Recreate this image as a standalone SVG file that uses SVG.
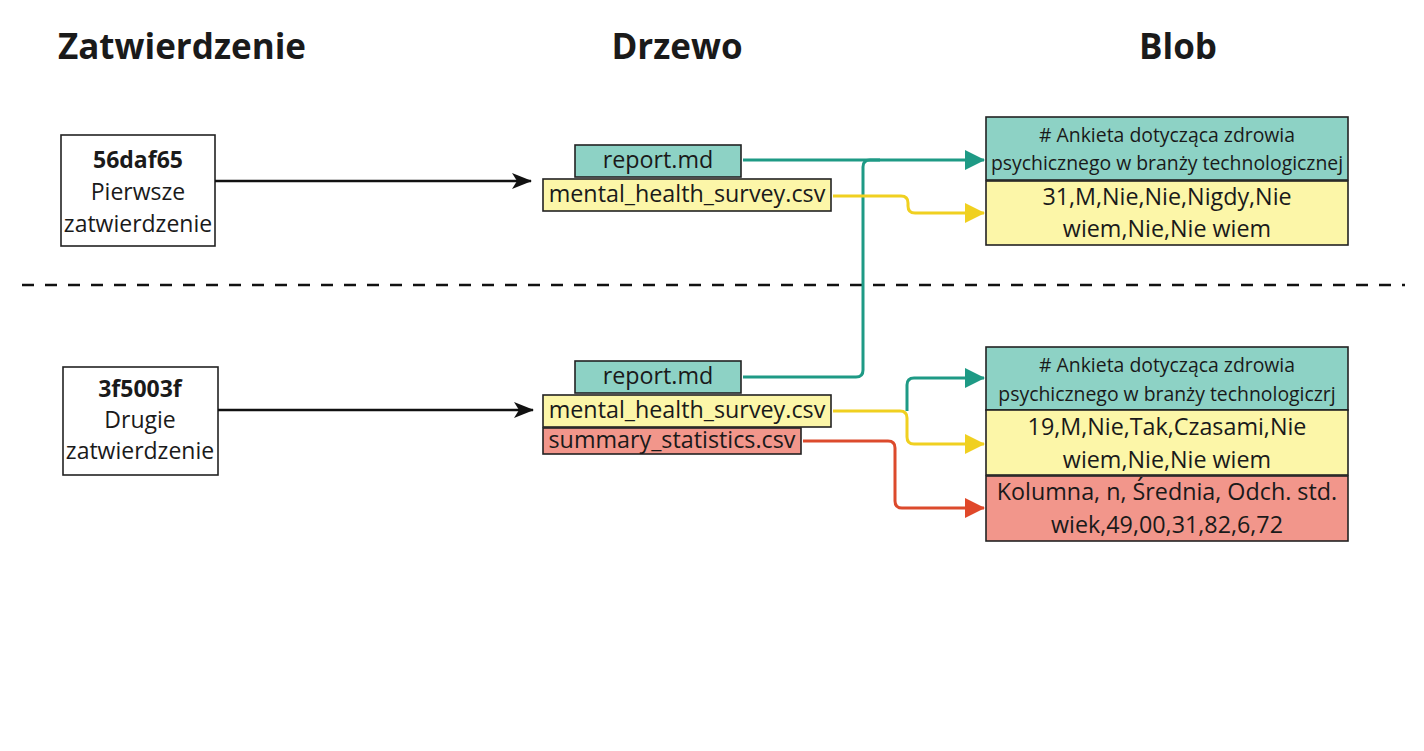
<svg xmlns="http://www.w3.org/2000/svg" width="1424" height="751" viewBox="0 0 1424 751">
<style>
text{font-family:"Open Sans","Noto Sans","DejaVu Sans",sans-serif;fill:#1a1a1a;text-anchor:middle}
.title{font-size:35px;font-weight:bold}
.c{font-size:23px}
.b{font-weight:bold}
.t{font-size:23.3px}
.bl{font-size:19.4px}
.bb{font-size:23.3px}
.box{stroke:#222;stroke-width:1.6}
.w{fill:#fff}
.teal{fill:#8dd2c5}
.yel{fill:#fcf6a8}
.red{fill:#f2968b}
.ln{fill:none;stroke-width:3;stroke-linejoin:round}
</style>
<defs>
<marker id="ak" viewBox="0 0 20 16" refX="19" refY="8" markerWidth="20" markerHeight="16" markerUnits="userSpaceOnUse" orient="auto"><path d="M0,0 L20,8 L0,16 L5,8 Z" fill="#111"/></marker>
<marker id="at" viewBox="0 0 20 20" refX="19" refY="10" markerWidth="20" markerHeight="20" markerUnits="userSpaceOnUse" orient="auto"><path d="M0,0 L20,10 L0,20 Z" fill="#1e9a85"/></marker>
<marker id="ay" viewBox="0 0 20 20" refX="19" refY="10" markerWidth="20" markerHeight="20" markerUnits="userSpaceOnUse" orient="auto"><path d="M0,0 L20,10 L0,20 Z" fill="#f0d020"/></marker>
<marker id="ar" viewBox="0 0 20 20" refX="19" refY="10" markerWidth="20" markerHeight="20" markerUnits="userSpaceOnUse" orient="auto"><path d="M0,0 L20,10 L0,20 Z" fill="#e0482a"/></marker>
</defs>
<rect width="1424" height="751" fill="#fff"/>
<g id="titles">
<text class="title" x="182" y="59">Zatwierdzenie</text>
<text class="title" x="677" y="59">Drzewo</text>
<text class="title" x="1178" y="59">Blob</text>
</g>
<line x1="22" y1="285" x2="1405" y2="285" stroke="#111" stroke-width="2.5" stroke-dasharray="12 11"/>
<g id="commit1">
<rect class="box w" x="61" y="135" width="154" height="111"/>
<text class="c b" x="138" y="168">56daf65</text>
<text class="c" x="138" y="200">Pierwsze</text>
<text class="c" x="138" y="232">zatwierdzenie</text>
</g>
<g id="commit2">
<rect class="box w" x="63" y="367" width="155" height="108"/>
<text class="c b" x="140" y="397">3f5003f</text>
<text class="c" x="140" y="428">Drugie</text>
<text class="c" x="140" y="459">zatwierdzenie</text>
</g>
<g id="tree1-report">
<rect class="box teal" x="575" y="145" width="166" height="32"/>
<text class="t" x="658" y="168">report.md</text>
</g>
<g id="tree1-survey">
<rect class="box yel" x="543" y="179" width="288" height="32"/>
<text class="t" x="687" y="202">mental_health_survey.csv</text>
</g>
<g id="tree2-report">
<rect class="box teal" x="575" y="361" width="166" height="32"/>
<text class="t" x="658" y="384">report.md</text>
</g>
<g id="tree2-survey">
<rect class="box yel" x="543" y="395" width="288" height="32"/>
<text class="t" x="687" y="418">mental_health_survey.csv</text>
</g>
<g id="tree2-summary">
<rect class="box red" x="543" y="428" width="258" height="26"/>
<text class="t" x="672" y="448">summary_statistics.csv</text>
</g>
<g id="blob1-report">
<rect class="box teal" x="986" y="117" width="362" height="63"/>
<text class="bl" x="1167" y="142"># Ankieta dotycząca zdrowia</text>
<text class="bl" x="1167" y="170">psychicznego w branży technologicznej</text>
</g>
<g id="blob1-survey">
<rect class="box yel" x="986" y="181" width="362" height="64"/>
<text class="bb" x="1167" y="205">31,M,Nie,Nie,Nigdy,Nie</text>
<text class="bb" x="1167" y="237">wiem,Nie,Nie wiem</text>
</g>
<g id="blob2-report">
<rect class="box teal" x="986" y="347" width="362" height="63"/>
<text class="bl" x="1167" y="372"># Ankieta dotycząca zdrowia</text>
<text class="bl" x="1167" y="401">psychicznego w branży technologiczrj</text>
</g>
<g id="blob2-survey">
<rect class="box yel" x="986" y="410" width="362" height="65"/>
<text class="bb" x="1167" y="435">19,M,Nie,Tak,Czasami,Nie</text>
<text class="bb" x="1167" y="468">wiem,Nie,Nie wiem</text>
</g>
<g id="blob2-summary">
<rect class="box red" x="986" y="476" width="362" height="65"/>
<text class="bb" x="1167" y="500">Kolumna, n, Średnia, Odch. std.</text>
<text class="bb" x="1167" y="533">wiek,49,00,31,82,6,72</text>
</g>
<g id="connectors">
<line x1="215" y1="181" x2="531" y2="181" stroke="#111" stroke-width="2.5" marker-end="url(#ak)"/>
<line x1="218" y1="410" x2="533" y2="410" stroke="#111" stroke-width="2.5" marker-end="url(#ak)"/>
<path class="ln" d="M743,160 L984,160" stroke="#1e9a85" marker-end="url(#at)"/>
<path class="ln" d="M743,377 L856,377 Q863,377 863,370 L863,167 Q863,160 870,160 L880,160" stroke="#1e9a85"/>
<path class="ln" d="M833,196 L901,196 Q908,196 908,203 L908,206 Q908,213 915,213 L984,213" stroke="#f0d020" marker-end="url(#ay)"/>
<path class="ln" d="M907,411 L907,385 Q907,378 914,378 L984,378" stroke="#1e9a85" marker-end="url(#at)"/>
<path class="ln" d="M833,411 L900,411 Q907,411 907,418 L907,437 Q907,444 914,444 L984,444" stroke="#f0d020" marker-end="url(#ay)"/>
<path class="ln" d="M803,441 L888,441 Q895,441 895,448 L895,501 Q895,508 902,508 L984,508" stroke="#dc4a2c" marker-end="url(#ar)"/>
</g>
</svg>
